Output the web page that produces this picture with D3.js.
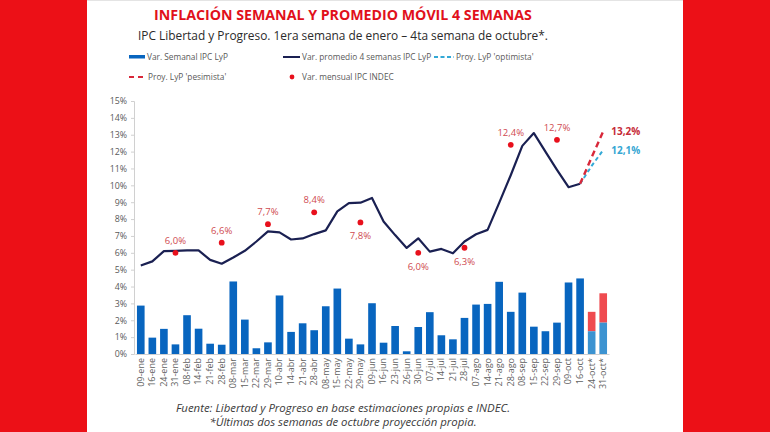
<!DOCTYPE html>
<html>
<head>
<meta charset="utf-8">
<script src="https://cdn.jsdelivr.net/npm/d3@7.9.0/dist/d3.min.js"></script>
<style>
  body { margin: 0; background: #fff; }
  svg { display: block; font-family: "Open Sans", sans-serif; }
</style>
</head>
<body>
<svg id="chart" width="770" height="432"></svg>
<script>
// semanas (eje x)
const weeks = ["09-ene","16-ene","24-ene","31-ene","08-feb","14-feb","21-feb","28-feb",
  "08-mar","15-mar","22-mar","29-mar","10-abr","14-abr","21-abr","28-abr",
  "08-may","15-may","22-may","29-may","09-jun","16-jun","23-jun","26-jun","30-jun",
  "07-jul","14-jul","21-jul","28-jul","07-ago","14-ago","21-ago","28-ago",
  "08-sep","15-sep","22-sep","29-sep","09-oct","16-oct"];
const projWeeks = ["24-oct*","31-oct*"];
const allWeeks = weeks.concat(projWeeks);

// variación semanal IPC LyP (%)
const weekly = [2.87,0.97,1.49,0.57,2.30,1.50,0.61,0.55,
  4.30,2.04,0.34,0.69,3.47,1.31,1.82,1.41,
  2.83,3.88,0.91,0.57,3.01,0.67,1.66,0.16,1.60,
  2.48,1.11,0.87,2.14,2.93,2.97,4.28,2.50,
  3.64,1.62,1.35,1.86,4.24,4.48];
// proyección semanal: optimista / pesimista (%)
const weeklyOpt = [1.35, 1.86];
const weeklyPes = [2.50, 3.60];

// promedio móvil 4 semanas (%)
const avg4 = [5.25,5.49,6.10,6.12,6.14,6.14,5.58,5.35,
  5.72,6.12,6.67,7.27,7.21,6.79,6.85,7.11,
  7.33,8.46,8.95,8.97,9.25,7.86,7.05,6.29,6.86,
  6.07,6.23,5.97,6.67,7.10,7.36,8.96,10.6,
  12.34,13.1,12.0,10.92,9.89,10.09];
// proyecciones del promedio (desde 16-oct)
const projLineWeeks = ["16-oct","24-oct*","31-oct*"];
const projOpt = [10.09, 11.15, 12.1];
const projPes = [10.09, 11.66, 13.2];

// variación mensual INDEC (%)
const indecWeeks = ["31-ene","28-feb","29-mar","28-abr","29-may","30-jun","28-jul","28-ago","29-sep"];
const indecValues = [6.0, 6.6, 7.7, 8.4, 7.8, 6.0, 6.3, 12.4, 12.7];
const indecBelow = ["29-may","30-jun","28-jul"];

const yTicks = d3.range(0, 16, 1);

const fmt = v => d3.format(".1f")(v).replace(".", ",") + "%";

const svg = d3.select("#chart");

// marco rojo
svg.append("rect").attr("x", 0).attr("y", 0).attr("width", 87).attr("height", 432).attr("fill", "#ec1017");
svg.append("rect").attr("x", 683).attr("y", 0).attr("width", 87).attr("height", 432).attr("fill", "#ec1017");
svg.append("line").attr("x1", 87).attr("x2", 683).attr("y1", 0.5).attr("y2", 0.5).attr("stroke", "#e4e4e4");

// títulos
svg.append("text").attr("x", 343).attr("y", 20).attr("text-anchor", "middle")
  .attr("font-size", 14.2).attr("font-weight", 700).attr("fill", "#e1101b")
  .text("INFLACIÓN SEMANAL Y PROMEDIO MÓVIL 4 SEMANAS");
svg.append("text").attr("x", 343).attr("y", 40).attr("text-anchor", "middle")
  .attr("font-size", 11.9).attr("fill", "#2b2b2b")
  .text("IPC Libertad y Progreso. 1era semana de enero – 4ta semana de octubre*.");

// escalas
const x = d3.scaleBand().domain(allWeeks).range([135, 609]).paddingInner(0.34).paddingOuter(0.17);
const y = d3.scaleLinear().domain([0, 15]).range([354, 101]);

// eje y
const yAxis = svg.append("g").attr("transform", "translate(134,0)")
  .call(d3.axisLeft(y).tickValues(yTicks).tickFormat(d => d + "%").tickSize(3).tickPadding(4));
yAxis.select(".domain").attr("stroke", "#d0d0d0");
yAxis.selectAll(".tick line").attr("stroke", "#d0d0d0");
yAxis.selectAll("text").attr("font-size", 8.8).attr("fill", "#595959").attr("font-family", "Open Sans");

// barras semanales
svg.append("g").selectAll("rect").data(weekly).join("rect")
  .attr("x", (d, i) => x(weeks[i]))
  .attr("width", x.bandwidth())
  .attr("y", d => y(d))
  .attr("height", d => y(0) - y(d))
  .attr("fill", "#0865bf");

// barras proyectadas
svg.append("g").selectAll("rect").data(weeklyPes).join("rect")
  .attr("x", (d, i) => x(projWeeks[i]))
  .attr("width", x.bandwidth())
  .attr("y", d => y(d))
  .attr("height", (d, i) => y(weeklyOpt[i]) - y(d))
  .attr("fill", "#ef4b50");
svg.append("g").selectAll("rect").data(weeklyOpt).join("rect")
  .attr("x", (d, i) => x(projWeeks[i]))
  .attr("width", x.bandwidth())
  .attr("y", d => y(d))
  .attr("height", d => y(0) - y(d))
  .attr("fill", "#3c93d1");

// eje x
const xAxis = svg.append("g").attr("transform", "translate(0,354)")
  .call(d3.axisBottom(x).tickSize(0).tickPadding(0));
xAxis.select(".domain").attr("stroke", "#d0d0d0");
xAxis.selectAll("text")
  .attr("font-size", 9).attr("fill", "#5f5f5f").attr("font-family", "Open Sans")
  .attr("text-anchor", "end")
  .attr("transform", "translate(0,4) rotate(-90)")
  .attr("dx", 0).attr("dy", "0.32em");

const cx = w => x(w) + x.bandwidth() / 2;

// línea promedio móvil
const line = d3.line().x((d, i) => cx(weeks[i])).y(d => y(d));
svg.append("path").datum(avg4).attr("d", line)
  .attr("fill", "none").attr("stroke", "#1a2052").attr("stroke-width", 2.2)
  .attr("stroke-linejoin", "round");

// proyecciones
const projLine = d3.line().x((d, i) => cx(projLineWeeks[i])).y(d => y(d));
svg.append("path").datum(projOpt).attr("d", projLine)
  .attr("fill", "none").attr("stroke", "#33a9d6").attr("stroke-width", 2)
  .attr("stroke-dasharray", "4,3");
svg.append("path").datum(projPes).attr("d", projLine)
  .attr("fill", "none").attr("stroke", "#d8283a").attr("stroke-width", 2.4)
  .attr("stroke-dasharray", "6,4");

svg.append("text").attr("x", cx("31-oct*") + 8).attr("y", y(projPes[2]) + 4)
  .attr("font-size", 10).attr("font-weight", 700).attr("fill", "#c62a38")
  .text(fmt(projPes[2]));
svg.append("text").attr("x", cx("31-oct*") + 8).attr("y", y(projOpt[2]) + 4)
  .attr("font-size", 10).attr("font-weight", 700).attr("fill", "#36a6d3")
  .text(fmt(projOpt[2]));

// puntos INDEC
svg.append("g").selectAll("circle").data(indecValues).join("circle")
  .attr("cx", (d, i) => cx(indecWeeks[i]))
  .attr("cy", d => y(d))
  .attr("r", 2.9)
  .attr("fill", "#e8101c");
svg.append("g").selectAll("text").data(indecValues).join("text")
  .attr("x", (d, i) => cx(indecWeeks[i]))
  .attr("y", (d, i) => indecBelow.includes(indecWeeks[i]) ? y(d) + 17 : y(d) - 9)
  .attr("text-anchor", "middle")
  .attr("font-size", 9.5).attr("fill", "#cf4a50")
  .text(d => fmt(d));

// leyenda
const leg = svg.append("g").attr("font-size", 8.3).attr("fill", "#595959");
leg.append("rect").attr("x", 129).attr("y", 55).attr("width", 16).attr("height", 3.5).attr("fill", "#0865bf");
leg.append("text").attr("x", 147).attr("y", 60).text("Var. Semanal IPC LyP");
leg.append("line").attr("x1", 283).attr("x2", 300).attr("y1", 57).attr("y2", 57)
  .attr("stroke", "#1a2052").attr("stroke-width", 2);
leg.append("text").attr("x", 302).attr("y", 60).text("Var. promedio 4 semanas IPC LyP");
leg.append("line").attr("x1", 434).attr("x2", 454).attr("y1", 57).attr("y2", 57)
  .attr("stroke", "#33a9d6").attr("stroke-width", 2).attr("stroke-dasharray", "4,2.5");
leg.append("text").attr("x", 456).attr("y", 60).text("Proy. LyP 'optimista'");
leg.append("line").attr("x1", 129).attr("x2", 146).attr("y1", 77).attr("y2", 77)
  .attr("stroke", "#d8283a").attr("stroke-width", 2).attr("stroke-dasharray", "5,4");
leg.append("text").attr("x", 148).attr("y", 80).text("Proy. LyP 'pesimista'");
leg.append("circle").attr("cx", 292).attr("cy", 77).attr("r", 2.4).attr("fill", "#e8101c");
leg.append("text").attr("x", 302).attr("y", 80).text("Var. mensual IPC INDEC");

// pie
svg.append("text").attr("x", 343).attr("y", 412).attr("text-anchor", "middle")
  .attr("font-size", 11.4).attr("font-style", "italic").attr("fill", "#3a3a3a")
  .text("Fuente: Libertad y Progreso en base estimaciones propias e INDEC.");
svg.append("text").attr("x", 343).attr("y", 426).attr("text-anchor", "middle")
  .attr("font-size", 11.4).attr("font-style", "italic").attr("fill", "#3a3a3a")
  .text("*Últimas dos semanas de octubre proyección propia.");
</script>
</body>
</html>
